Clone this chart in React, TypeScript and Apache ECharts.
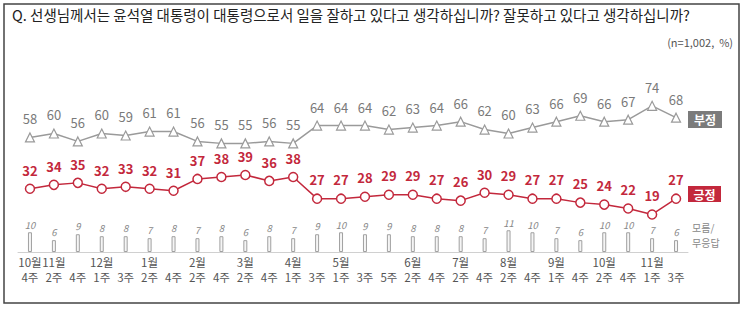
import React, { useEffect, useRef } from "react";
import * as echarts from "echarts";

const monthLabels = ["10월", "11월", "", "12월", "", "1월", "", "2월", "", "3월", "", "4월", "", "5월", "", "", "6월", "", "7월", "", "8월", "", "9월", "", "10월", "", "11월", ""];
const weekLabels = ["4주", "2주", "4주", "1주", "3주", "2주", "4주", "2주", "4주", "2주", "4주", "1주", "3주", "1주", "3주", "5주", "2주", "4주", "2주", "4주", "2주", "4주", "1주", "4주", "2주", "4주", "1주", "3주"];
const negative = [58, 60, 56, 60, 59, 61, 61, 56, 55, 55, 56, 55, 64, 64, 64, 62, 63, 64, 66, 62, 60, 63, 66, 69, 66, 67, 74, 68];
const positive = [32, 34, 35, 32, 33, 32, 31, 37, 38, 39, 36, 38, 27, 27, 28, 29, 29, 27, 26, 30, 29, 27, 27, 25, 24, 22, 19, 27];
const dontKnow = [10, 6, 9, 8, 8, 7, 8, 7, 8, 6, 8, 7, 9, 10, 9, 9, 8, 8, 8, 7, 11, 10, 7, 6, 10, 10, 7, 6];

const FONT = '"Noto Sans CJK KR", "Noto Sans", sans-serif';
const RED = "#c3283c";
const GRAY = "#9a9a9a";

export default function App() {
  const ref = useRef<HTMLDivElement>(null);
  useEffect(() => {
    if (!ref.current) return;
    const chart = echarts.init(ref.current, null, { renderer: "svg" });
    chart.setOption({
      animation: false,
      textStyle: { fontFamily: FONT },
      grid: { left: 18, right: 55, top: 94, bottom: 57 },
      xAxis: [
        {
          type: "category",
          data: monthLabels,
          boundaryGap: true,
          axisLine: { show: true, lineStyle: { color: "#d0d0d0", width: 1 } },
          axisTick: { show: false },
          axisLabel: {
            interval: 0,
            color: "#555",
            fontSize: 11.5,
            margin: 4,
            fontFamily: FONT,
          },
        },
        {
          type: "category",
          data: weekLabels,
          position: "bottom",
          offset: 15,
          boundaryGap: true,
          axisLine: { show: false },
          axisTick: { show: false },
          axisLabel: {
            interval: 0,
            color: "#555",
            fontSize: 11.5,
            margin: 4,
            fontFamily: FONT,
          },
        },
      ],
      yAxis: {
        type: "value",
        min: 0,
        max: 80,
        show: false,
        splitLine: { show: false },
      },
      series: [
        {
          type: "bar",
          name: "모름/무응답",
          data: dontKnow,
          barWidth: 4,
          itemStyle: { color: "#f5f5f5", borderColor: "#a0a0a0", borderWidth: 1 },
          label: {
            show: true,
            position: "top",
            distance: 3,
            fontSize: 9.5,
            fontStyle: "italic",
            color: "#888",
            fontFamily: FONT,
          },
          z: 1,
        },
        {
          type: "line",
          name: "부정",
          data: negative,
          symbol: "triangle",
          symbolSize: 9,
          lineStyle: { color: GRAY, width: 1.5 },
          itemStyle: { color: "#fff", borderColor: GRAY, borderWidth: 1.2 },
          label: {
            show: true,
            position: "top",
            distance: 7,
            fontSize: 13,
            color: "#7a7a7a",
            fontFamily: FONT,
          },
          z: 3,
        },
        {
          type: "line",
          name: "긍정",
          data: positive,
          symbol: "circle",
          symbolSize: 9,
          lineStyle: { color: RED, width: 1.5 },
          itemStyle: { color: "#fff", borderColor: RED, borderWidth: 1.5 },
          label: {
            show: true,
            position: "top",
            distance: 7,
            fontSize: 13,
            fontWeight: "bold",
            color: RED,
            fontFamily: FONT,
          },
          z: 4,
        },
      ],
      graphic: [
        {
          type: "rect",
          shape: { x: 4, y: 4, width: 735, height: 299 },
          style: { fill: "none", stroke: "#444", lineWidth: 1.5 },
          silent: true,
        },
        {
          type: "text",
          left: 12,
          top: 7,
          style: {
            text: "Q. 선생님께서는 윤석열 대통령이 대통령으로서 일을 잘하고 있다고 생각하십니까? 잘못하고 있다고 생각하십니까?",
            fontSize: 14.5,
            fill: "#222",
            fontFamily: FONT,
          },
        },
        {
          type: "text",
          right: 10,
          top: 36,
          style: { text: "(n=1,002,  %)", fontSize: 11, fill: "#555", fontFamily: FONT },
        },
        {
          type: "group",
          left: 688,
          top: 111,
          children: [
            { type: "rect", shape: { x: 0, y: 0, width: 34, height: 17 }, style: { fill: "#7b7b7b" } },
            {
              type: "text",
              style: { text: "부정", x: 17, y: 8.5, align: "center", verticalAlign: "middle", fontSize: 12, fontWeight: "bold", fill: "#fff", fontFamily: FONT },
            },
          ],
        },
        {
          type: "group",
          left: 688,
          top: 186,
          children: [
            { type: "rect", shape: { x: 0, y: 0, width: 33, height: 16 }, style: { fill: RED } },
            {
              type: "text",
              style: { text: "긍정", x: 16.5, y: 8, align: "center", verticalAlign: "middle", fontSize: 12, fontWeight: "bold", fill: "#fff", fontFamily: FONT },
            },
          ],
        },
        {
          type: "text",
          left: 692,
          top: 222,
          style: { text: "모름/", fontSize: 10, fill: "#888", fontFamily: FONT },
        },
        {
          type: "text",
          left: 692,
          top: 237,
          style: { text: "무응답", fontSize: 10, fill: "#888", fontFamily: FONT },
        },
      ],
    });
    return () => chart.dispose();
  }, []);
  return <div ref={ref} style={{ width: 743, height: 309, position: "absolute", left: 0, top: 0 }} />;
}
